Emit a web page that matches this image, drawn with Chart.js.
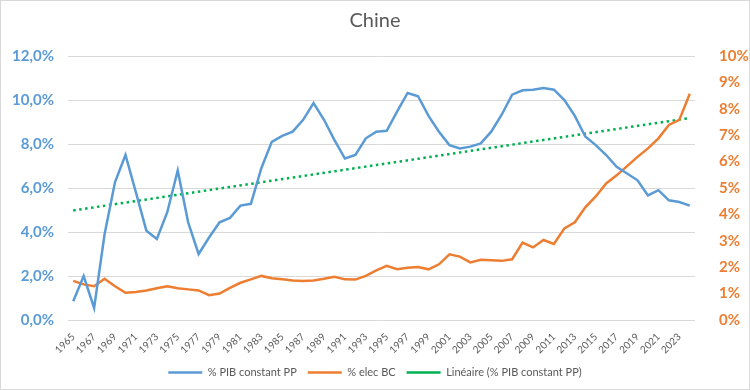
<!DOCTYPE html>
<html>
<head>
<meta charset="utf-8">
<script src="https://cdn.jsdelivr.net/npm/chart.js@4"></script>
<style>
  html, body { margin: 0; padding: 0; background: #fff; }
  #wrap { width: 748px; height: 388px; border: 1px solid #d9d9d9; }
</style>
</head>
<body>
<div id="wrap"><canvas id="chart" width="748" height="388"></canvas></div>
<script>
const years = [];
for (let y = 1965; y <= 2024; y++) years.push(String(y));

// % PIB constant PP (left axis)
const pib = [0.85, 2.0, 0.55, 3.9, 6.27, 7.5, 5.8, 4.06, 3.68, 4.9,
  6.8, 4.44, 3.0, 3.75, 4.44, 4.64, 5.2, 5.28, 6.9, 8.1,
  8.37, 8.56, 9.1, 9.86, 9.1, 8.18, 7.34, 7.5, 8.26, 8.56,
  8.6, 9.48, 10.32, 10.17, 9.28, 8.56, 7.95, 7.8, 7.88, 8.03,
  8.56, 9.33, 10.24, 10.44, 10.47, 10.55, 10.47, 10.0, 9.28, 8.34,
  7.95, 7.5, 6.96, 6.66, 6.35, 5.66, 5.9, 5.44, 5.36, 5.2];

// % elec BC (right axis)
const elec = [1.48, 1.35, 1.28, 1.56, 1.28, 1.03, 1.06, 1.12, 1.2, 1.28,
  1.2, 1.16, 1.12, 0.94, 1.0, 1.22, 1.41, 1.54, 1.67, 1.58,
  1.54, 1.5, 1.48, 1.5, 1.56, 1.64, 1.54, 1.53, 1.67, 1.88,
  2.05, 1.92, 1.98, 2.01, 1.92, 2.11, 2.49, 2.4, 2.18, 2.28,
  2.26, 2.24, 2.3, 2.93, 2.75, 3.03, 2.88, 3.47, 3.7, 4.27,
  4.68, 5.17, 5.48, 5.83, 6.18, 6.5, 6.88, 7.39, 7.58, 8.57];

// trend line end points (Linéaire), left axis
const trendYears = ['1965', '2024'];
const trendValues = [4.98, 9.18];

// axis ranges: [min, max, step]
const leftAxis = [0, 12, 2];
const rightAxis = [0, 10, 1];

const blue = '#5b9bd5';
const orange = '#ed7d31';
const green = '#00b050';
const grey = '#595959';

new Chart(document.getElementById('chart'), {
  type: 'line',
  data: {
    labels: years,
    datasets: [
      {
        label: '% PIB constant PP',
        data: pib,
        borderColor: blue,
        backgroundColor: blue,
        borderWidth: 2.5,
        pointRadius: 0,
        tension: 0,
        yAxisID: 'y'
      },
      {
        label: '% elec BC',
        data: elec,
        borderColor: orange,
        backgroundColor: orange,
        borderWidth: 2.5,
        pointRadius: 0,
        tension: 0,
        yAxisID: 'y2'
      },
      {
        label: 'Linéaire (% PIB constant PP)',
        data: trendYears.map((x, i) => ({ x: x, y: trendValues[i] })),
        borderColor: green,
        backgroundColor: green,
        borderWidth: 2.5,
        borderDash: [2.5, 3.5],
        pointRadius: 0,
        yAxisID: 'y'
      }
    ]
  },
  options: {
    responsive: false,
    animation: false,
    layout: { padding: { left: 0, right: 0, bottom: 1 } },
    plugins: {
      title: {
        display: true,
        text: 'Chine',
        color: grey,
        font: { family: 'Lato', size: 20, weight: 'normal' },
        padding: { top: 8, bottom: 23 }
      },
      legend: {
        position: 'bottom',
        labels: {
          color: grey,
          font: { family: 'Lato', size: 11 },
          usePointStyle: true,
          pointStyle: 'line',
          pointStyleWidth: 34,
          boxWidth: 34,
          padding: 11
        }
      },
      tooltip: { enabled: false }
    },
    scales: {
      x: {
        offset: true,
        grid: { display: false },
        border: { display: false },
        ticks: {
          autoSkip: false,
          maxRotation: 45,
          minRotation: 45,
          color: grey,
          font: { family: 'Lato', size: 10 },
          padding: 3,
          callback: function (v, i) { return i % 2 === 0 ? years[i] : ''; }
        },
        afterFit: function (s) { s.height = 36; }
      },
      y: {
        position: 'left',
        min: leftAxis[0],
        max: leftAxis[1],
        grid: { color: '#d9d9d9', lineWidth: 1, drawTicks: false },
        border: { display: false },
        ticks: {
          stepSize: leftAxis[2],
          autoSkip: false,
          color: blue,
          font: { family: 'Lato', size: 15, weight: 'bold' },
          padding: 14,
          callback: v => v.toFixed(1).replace('.', ',') + '%'
        },
        afterFit: function (s) { s.width = 67; }
      },
      y2: {
        position: 'right',
        min: rightAxis[0],
        max: rightAxis[1],
        grid: { display: false },
        border: { display: false },
        ticks: {
          stepSize: rightAxis[2],
          autoSkip: false,
          color: orange,
          font: { family: 'Lato', size: 15, weight: 'bold' },
          padding: 16,
          callback: v => v + '%'
        },
        afterFit: function (s) { s.width = 54; }
      }
    }
  }
});
</script>
</body>
</html>
